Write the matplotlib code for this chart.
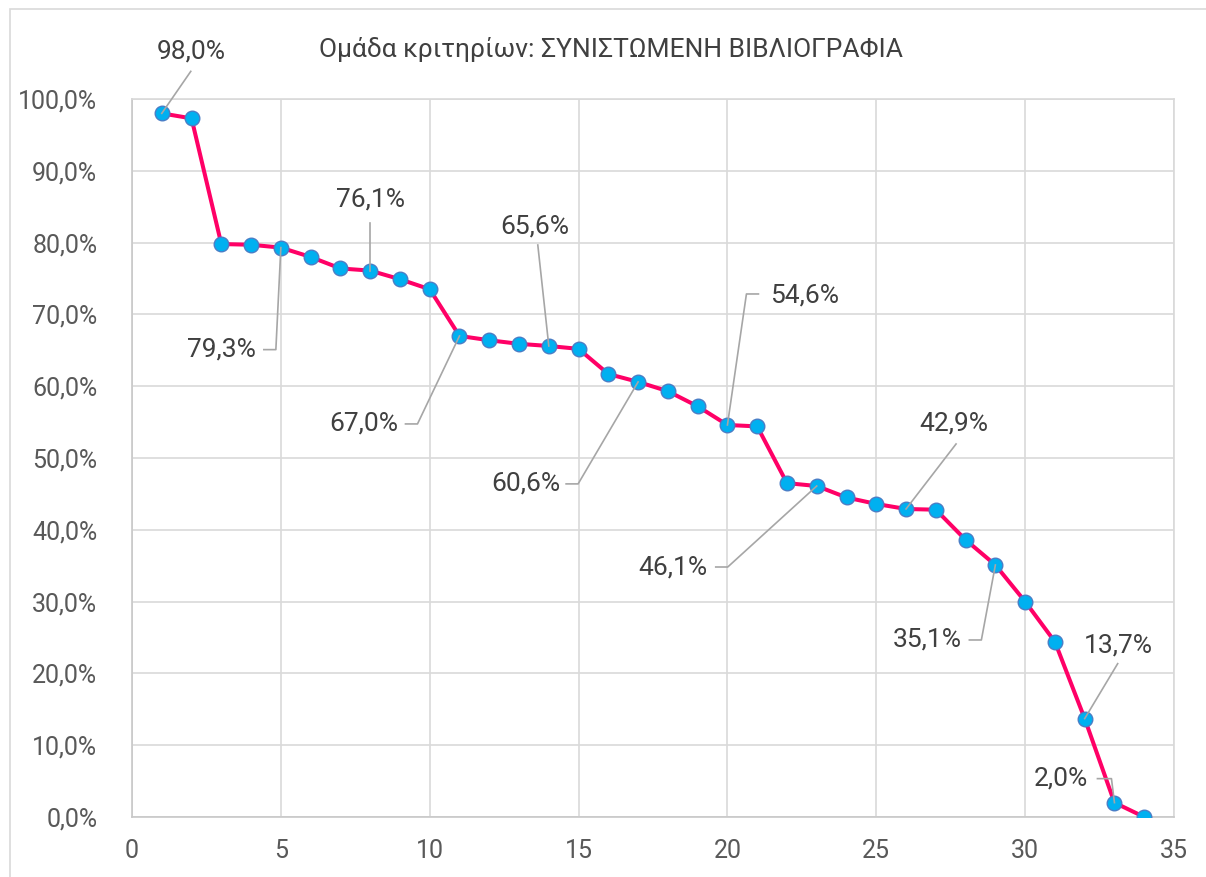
import matplotlib
matplotlib.use("Agg")
import matplotlib.pyplot as plt
from matplotlib.patches import Rectangle
from matplotlib.ticker import FuncFormatter
import numpy as np

plt.rcParams['font.family'] = ['Roboto', 'DejaVu Sans']

title = "Ομάδα κριτηρίων: ΣΥΝΙΣΤΩΜΕΝΗ ΒΙΒΛΙΟΓΡΑΦΙΑ"

# criterion rank and share of positive answers (%)
rank = list(range(1, 35))
share = [98.0, 97.3, 79.8, 79.7, 79.3, 78.0, 76.4, 76.1, 74.9, 73.5,
         67.0, 66.4, 65.9, 65.6, 65.2, 61.7, 60.6, 59.3, 57.2, 54.6,
         54.4, 46.5, 46.1, 44.5, 43.6, 42.9, 42.8, 38.6, 35.1, 30.0,
         24.4, 13.7, 2.0, 0.0]

# which points carry a value label
labelled = [1, 5, 8, 11, 14, 17, 20, 23, 26, 29, 32, 33]

# label placement: text offset and leader polyline, in pixels from the point
label_style = {
    1:  ((29, 62),    [(0, 0), (29, 42)]),
    5:  ((-59, -102), [(0, 0), (-5, -102), (-17, -102)]),
    8:  ((0, 71),     [(0, 0), (0, 48)]),
    11: ((-96, -88),  [(0, 0), (-42, -88), (-54, -88)]),
    14: ((-14, 119),  [(0, 0), (-11, 101)]),
    17: ((-112, -102), [(0, 0), (-60, -102), (-72, -102)]),
    20: ((77, 129),   [(0, 0), (19, 131), (31, 131)]),
    23: ((-144, -81), [(0, 0), (-89, -81), (-101, -81)]),
    26: ((48, 85),    [(0, 0), (50, 65)]),
    29: ((-68, -75),  [(0, 0), (-14, -75), (-26, -75)]),
    32: ((34, 73),    [(0, 0), (33, 55)]),
    33: ((-54, 24),   [(0, 0), (-3, 24), (-17, 24)]),
}

W, H = 1206, 877
fig = plt.figure(figsize=(W / 100, H / 100), dpi=100)
fig.patch.set_facecolor("white")

# chart frame
fig.add_artist(Rectangle((10 / W, -0.1), 1.2, (H - 9) / H + 0.1,
                         transform=fig.transFigure, fill=False,
                         edgecolor="#D9D9D9", linewidth=1.2))

ax = fig.add_axes([132 / W, (H - 817) / H, (1174 - 132) / W, (817 - 99) / H])
ax.set_xlim(0, 35)
ax.set_ylim(0, 100)
ax.set_xticks(np.arange(0, 36, 5))
ax.set_yticks(np.arange(0, 101, 10))
ax.yaxis.set_major_formatter(FuncFormatter(lambda v, _: f"{v:.1f}%".replace(".", ",")))
ax.grid(True, color="#D9D9D9", linewidth=1.2)
ax.set_axisbelow(True)
for s in ax.spines.values():
    s.set_color("#D9D9D9")
    s.set_linewidth(1.2)
ax.spines["left"].set_color("#C8C8C8")
ax.spines["bottom"].set_color("#C8C8C8")
ax.tick_params(length=0, labelsize=18, labelcolor="#595959")
ax.tick_params(axis="y", pad=25)
ax.tick_params(axis="x", pad=16)

ax.plot(rank, share, color="#FF0066", linewidth=2.9, zorder=3,
        marker="o", markersize=10.5, markerfacecolor="#00B0F0",
        markeredgecolor="#4A7EC6", markeredgewidth=1.0)

fig.canvas.draw()
for r in labelled:
    v = share[r - 1]
    px, py = ax.transData.transform((r, v))
    (tx, ty), leader = label_style[r]
    lx = [px + dx for dx, dy in leader]
    ly = [py + dy for dx, dy in leader]
    ax.plot(lx, ly, color="#A6A6A6", linewidth=1.2, transform=None,
            zorder=4, clip_on=False)
    ax.text(px + tx, py + ty, f"{v:.1f}%".replace(".", ","), transform=None,
            ha="center", va="center", fontsize=19, color="#404040", zorder=5)

fig.text(611 / W, 1 - 50 / H, title, ha="center", va="center",
         fontsize=19, color="#404040")

fig.savefig("out.png", dpi=100)
